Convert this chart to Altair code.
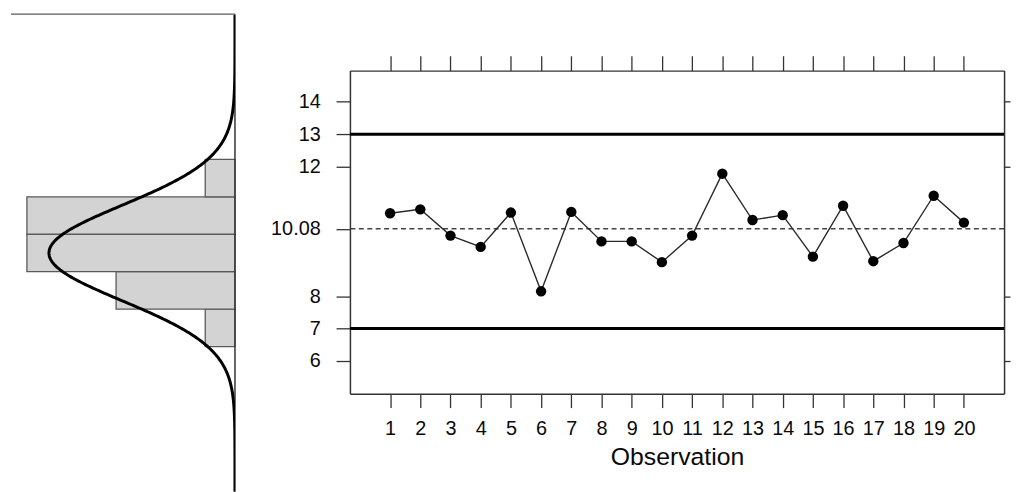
import altair as alt
import pandas as pd

# ---------------- data ----------------
obs = list(range(1, 21))
values = [10.56, 10.68, 9.87, 9.52, 10.58, 8.15, 10.60, 9.69, 9.69, 9.05,
          9.87, 11.78, 10.35, 10.50, 9.22, 10.79, 9.08, 9.64, 11.10, 10.27]
center_line = [10.08]
control_limits = [7, 13]
y_tick_values = [6, 7, 8, 10.08, 12, 13, 14]
right_tick_values = [6, 8, 12, 14]

bin_lo = [8.0, 8.8, 9.6, 10.4, 11.2]
bin_hi = [8.8, 9.6, 10.4, 11.2, 12.0]
bin_counts = [1, 4, 7, 7, 1]
target_mean = 10.0
target_sd = 1.02

left_x_domain = [0, 0.471]
left_y_domain = [4.9, 15.1]

FONT = "Liberation Sans"

# ---------------- left panel: histogram + normal curve ----------------
n = sum(bin_counts)
hist_df = pd.DataFrame({"lo": bin_lo, "hi": bin_hi, "count": bin_counts})
hist_df["density"] = hist_df["count"] / (n * (hist_df["hi"] - hist_df["lo"]))
hist_df["zero"] = 0.0

xs_left = alt.Scale(domain=left_x_domain, reverse=True, nice=False, zero=False)
ys_left = alt.Scale(domain=left_y_domain, nice=False, zero=False)

bars = alt.Chart(hist_df).mark_rect(
    fill="#d3d3d3", stroke="#5a5a5a", strokeWidth=1.3
).encode(
    x=alt.X("density:Q", scale=xs_left, axis=None),
    x2="zero:Q",
    y=alt.Y("lo:Q", scale=ys_left, axis=None),
    y2="hi:Q",
)

border_df = pd.DataFrame({
    "x": [left_x_domain[1], left_x_domain[0]],
    "x2": [left_x_domain[0], left_x_domain[0]],
    "y": [left_y_domain[1], left_y_domain[0]],
    "y2": [left_y_domain[1], left_y_domain[1]],
    "kind": ["top", "side"],
})
top_border = alt.Chart(border_df).transform_filter("datum.kind == 'top'").mark_rule(
    color="#5a5a5a", strokeWidth=1.3
).encode(
    x=alt.X("x:Q", scale=xs_left, axis=None), x2="x2:Q",
    y=alt.Y("y:Q", scale=ys_left, axis=None),
)
side_border = alt.Chart(border_df).transform_filter("datum.kind == 'side'").mark_rule(
    color="#333333", strokeWidth=1.5
).encode(
    x=alt.X("x:Q", scale=xs_left, axis=None),
    y=alt.Y("y:Q", scale=ys_left, axis=None), y2="y2:Q",
)

curve = alt.Chart(alt.sequence(left_y_domain[0], left_y_domain[1], 0.02, as_="v")).transform_calculate(
    d=f"densityNormal(datum.v, {target_mean}, {target_sd})"
).mark_line(color="black", strokeWidth=3, clip=True).encode(
    x=alt.X("d:Q", scale=xs_left, axis=None),
    y=alt.Y("v:Q", scale=ys_left, axis=None),
    order="v:Q",
)

left = alt.layer(bars, top_border, side_border, curve).properties(width=226, height=482)

# ---------------- right panel: control chart ----------------
df = pd.DataFrame({"obs": obs, "value": values})
xs = alt.Scale(domain=[-0.33, 21.33], nice=False, zero=False)
ys = alt.Scale(domain=[4.99, 14.96], nice=False, zero=False)

common = dict(grid=False, domainColor="#333333", domainWidth=1.5,
              tickColor="#333333", tickWidth=1.3)
label_style = dict(labelFont=FONT, labelColor="#0a0a0a", labelFontSize=20,
                   titleFont=FONT, titleFontSize=25, titleColor="#0a0a0a",
                   titleFontWeight="normal")

center = alt.Chart(pd.DataFrame({"c": center_line})).mark_rule(
    color="#444444", strokeWidth=1.6, strokeDash=[5, 3.5]
).encode(y=alt.Y("c:Q", scale=ys, axis=None))

limits = alt.Chart(pd.DataFrame({"limit": control_limits})).mark_rule(
    color="black", strokeWidth=3
).encode(y=alt.Y("limit:Q", scale=ys, axis=None))

line = alt.Chart(df).mark_line(color="#2a2a2a", strokeWidth=1.4).encode(
    x=alt.X("obs:Q", scale=xs,
            axis=alt.Axis(orient="bottom", values=obs, format="d", tickSize=14,
                          labelPadding=11, title="Observation", titlePadding=6,
                          **common, **label_style)),
    y=alt.Y("value:Q", scale=ys,
            axis=alt.Axis(orient="left", values=y_tick_values,
                          labelExpr="'' + datum.value", tickSize=14,
                          labelPadding=16, title=None, **common, **label_style)),
)

pts = alt.Chart(df).mark_circle(color="black", size=110, opacity=1).encode(
    x=alt.X("obs:Q", scale=xs, axis=None),
    y=alt.Y("value:Q", scale=ys, axis=None),
)

frame = alt.Chart(df).mark_point(opacity=0).encode(
    x=alt.X("obs:Q", scale=xs,
            axis=alt.Axis(orient="top", values=obs, labels=False, tickSize=15,
                          title=None, **common)),
    y=alt.Y("value:Q", scale=ys,
            axis=alt.Axis(orient="right", values=right_tick_values, labels=False,
                          tickSize=6, title=None, **common)),
)

main = alt.layer(center, limits, line, pts, frame).resolve_axis(
    x="independent", y="independent"
).properties(width=660, height=326)

spacer = alt.Chart(pd.DataFrame({"s": [1]})).mark_point(
    opacity=0, size=0, strokeWidth=0
).encode(
    x=alt.X("s:Q", axis=None, scale=alt.Scale(domain=[0, 2])),
    y=alt.Y("s:Q", axis=None, scale=alt.Scale(domain=[0, 2])),
).properties(width=10, height=41)

right = alt.vconcat(spacer, main, spacing=0)

chart = alt.hconcat(left, right, spacing=34).properties(
    padding={"left": 2, "top": 3, "right": 0, "bottom": 0}
).configure(
    font=FONT, view=alt.ViewConfig(stroke="transparent", strokeWidth=0)
)

chart.save("out.html", embed_options={"renderer": "svg", "actions": False})
